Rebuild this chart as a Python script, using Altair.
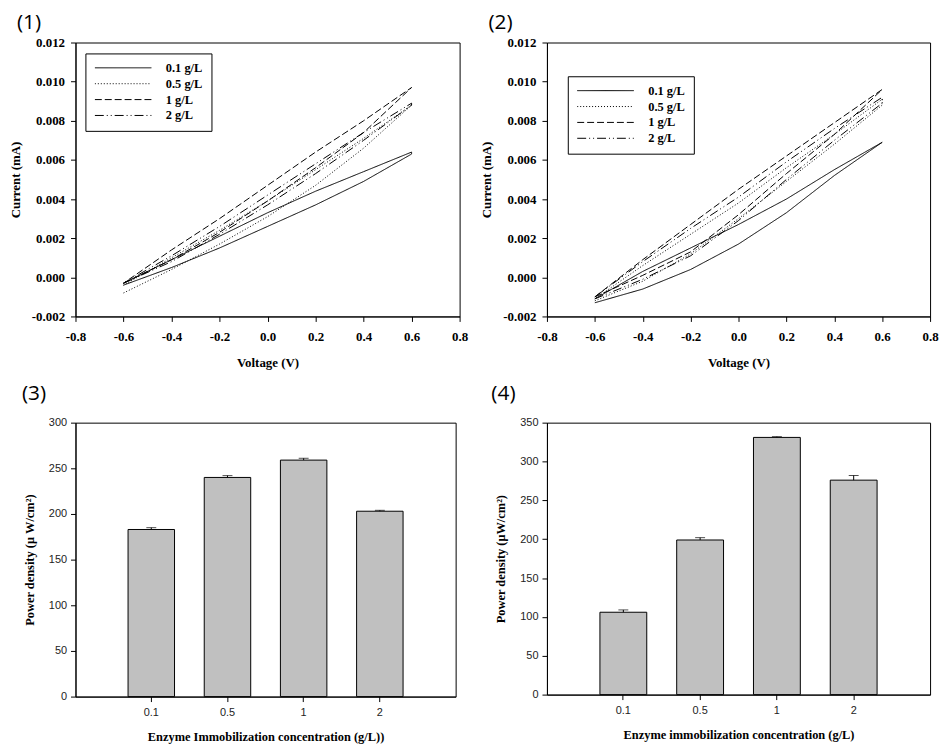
import altair as alt
import pandas as pd

# ---------------- data ----------------
VOLT = [-0.6, -0.4, -0.2, 0.0, 0.2, 0.4, 0.6]
CONCS = ["0.1 g/L", "0.5 g/L", "1 g/L", "2 g/L"]

# Panel (1): cyclic voltammetry loops (current, mA) - lower and upper branch
P1_C01_LOW = [-0.0004, 0.0005, 0.0015, 0.0026, 0.0037, 0.0049, 0.0063]
P1_C01_UP = [-0.0003, 0.0009, 0.0021, 0.0033, 0.0044, 0.0054, 0.0064]
P1_C05_LOW = [-0.0008, 0.0004, 0.0017, 0.0031, 0.0047, 0.0066, 0.0088]
P1_C05_UP = [-0.0004, 0.0010, 0.0024, 0.0039, 0.0055, 0.0071, 0.0088]
P1_C1_LOW = [-0.0003, 0.0009, 0.0023, 0.0039, 0.0056, 0.0074, 0.0097]
P1_C1_UP = [-0.0003, 0.0014, 0.0030, 0.0047, 0.0064, 0.0080, 0.0097]
P1_C2_LOW = [-0.0003, 0.0008, 0.0022, 0.0037, 0.0053, 0.0070, 0.0088]
P1_C2_UP = [-0.0003, 0.0011, 0.0026, 0.0042, 0.0058, 0.0074, 0.0089]

# Panel (2)
P2_C01_LOW = [-0.0013, -0.0006, 0.0004, 0.0017, 0.0033, 0.0052, 0.0069]
P2_C01_UP = [-0.0011, 0.0003, 0.0015, 0.0027, 0.0040, 0.0055, 0.0069]
P2_C05_LOW = [-0.0012, -0.0002, 0.0012, 0.0030, 0.0049, 0.0068, 0.0088]
P2_C05_UP = [-0.0011, 0.0006, 0.0022, 0.0038, 0.0056, 0.0073, 0.0091]
P2_C1_LOW = [-0.0010, 0.0001, 0.0013, 0.0032, 0.0053, 0.0073, 0.0096]
P2_C1_UP = [-0.0010, 0.0009, 0.0027, 0.0045, 0.0062, 0.0079, 0.0096]
P2_C2_LOW = [-0.0011, -0.0001, 0.0011, 0.0029, 0.0050, 0.0070, 0.0089]
P2_C2_UP = [-0.0010, 0.0008, 0.0025, 0.0041, 0.0059, 0.0076, 0.0092]

# Panels (3) and (4): power density bars
BAR_CATS = ["0.1", "0.5", "1", "2"]
P3_POWER = [183, 240, 259, 203]
P3_ERR = [2, 2, 2, 1]
P4_POWER = [106, 199, 331, 276]
P4_ERR = [3, 3, 1, 6]

SERIF = "Liberation Serif"
SANS = "Liberation Sans"


def loop_frame(branches):
    rows = []
    for conc, (low, up) in zip(CONCS, branches):
        n = len(VOLT)
        for i in range(n):
            rows.append({"conc": conc, "V": VOLT[i], "I": low[i], "ord": i})
        for k, i in enumerate(reversed(range(n))):
            rows.append({"conc": conc, "V": VOLT[i], "I": up[i], "ord": n + k})
    return pd.DataFrame(rows)


df1 = loop_frame([(P1_C01_LOW, P1_C01_UP), (P1_C05_LOW, P1_C05_UP),
                  (P1_C1_LOW, P1_C1_UP), (P1_C2_LOW, P1_C2_UP)])
df2 = loop_frame([(P2_C01_LOW, P2_C01_UP), (P2_C05_LOW, P2_C05_UP),
                  (P2_C1_LOW, P2_C1_UP), (P2_C2_LOW, P2_C2_UP)])

MINUS_FIX = "replace(datum.label, '\u2212', '-')"


def panel_title(text, dx, offset):
    return alt.TitleParams(text=text, anchor="start", frame="group", dx=dx,
                           offset=offset, font="Open Sans",
                           fontSize=21, fontWeight="normal", color="black",
                           orient="top")


def cv_chart(df, label, lx, ly, dx, off, width, height):
    xaxis = alt.Axis(values=[-0.8, -0.6, -0.4, -0.2, 0.0, 0.2, 0.4, 0.6, 0.8],
                     format=".1f", labelExpr=MINUS_FIX, title="Voltage (V)",
                     labelFont=SERIF, labelFontWeight="bold", labelFontSize=13,
                     titleFont=SERIF, titleFontWeight="bold", titleFontSize=13,
                     labelPadding=9, titlePadding=13, labelOverlap=False,
                     labelFlush=False)
    yaxis = alt.Axis(values=[-0.002, 0.0, 0.002, 0.004, 0.006, 0.008, 0.010, 0.012],
                     format=".3f", labelExpr=MINUS_FIX, title="Current (mA)",
                     labelFont=SERIF, labelFontWeight="bold", labelFontSize=13,
                     titleFont=SERIF, titleFontWeight="bold", titleFontSize=13,
                     labelPadding=6, titlePadding=9, labelOverlap=False,
                     labelFlush=False)
    legend = alt.Legend(title=None, orient="none", legendX=lx, legendY=ly,
                        symbolType="stroke", symbolSize=3249,
                        symbolStrokeWidth=1, symbolStrokeColor="black",
                        labelFont=SERIF, labelFontWeight="bold", labelFontSize=12.5,
                        labelColor="black", labelOffset=14, strokeColor="black",
                        padding=9, rowPadding=3, clipHeight=11)
    return alt.Chart(df).mark_line(color="black", strokeWidth=1).encode(
        x=alt.X("V:Q", scale=alt.Scale(domain=[-0.8, 0.8], nice=False, zero=False), axis=xaxis),
        y=alt.Y("I:Q", scale=alt.Scale(domain=[-0.002, 0.012], nice=False, zero=False), axis=yaxis),
        strokeDash=alt.StrokeDash("conc:N", sort=CONCS,
                                  scale=alt.Scale(domain=CONCS,
                                                  range=[[1, 0], [1, 2], [7, 3], [9, 3, 1, 3, 1, 3]]),
                                  legend=legend),
        order="ord:Q",
    ).properties(width=width, height=height, title=panel_title(label, dx, off))


def bar_chart(cats, vals, errs, label, xtitle, ytitle, ymax, dx, off, width, height):
    df = pd.DataFrame({"c": cats, "v": vals, "top": [a + b for a, b in zip(vals, errs)]})
    xs = alt.Scale(domain=cats, paddingInner=0.39, paddingOuter=0.69)
    ys = alt.Scale(domain=[0, ymax], nice=False)
    xaxis = alt.Axis(title=xtitle, labelFont=SANS, labelFontSize=11, labelColor="#222",
                     labelAngle=0, titleFont=SERIF, titleFontWeight="bold",
                     titleFontSize=12.5, labelPadding=5, titlePadding=13)
    yaxis = alt.Axis(title=ytitle, values=list(range(0, ymax + 1, 50)), labelFont=SANS,
                     labelFontSize=11, labelColor="#222", titleFont=SERIF,
                     titleFontWeight="bold", titleFontSize=12.5, labelPadding=4,
                     titlePadding=12, labelOverlap=False)
    base = alt.Chart(df)
    bars = base.mark_bar(color="#c0c0c0", stroke="black", strokeWidth=1).encode(
        x=alt.X("c:N", scale=xs, sort=cats, axis=xaxis),
        y=alt.Y("v:Q", scale=ys, axis=yaxis),
    )
    rule = base.mark_rule(color="black", strokeWidth=1).encode(
        x=alt.X("c:N", scale=xs, sort=cats, axis=xaxis),
        y=alt.Y("v:Q", scale=ys, axis=yaxis), y2="top:Q")
    cap = base.mark_tick(color="black", thickness=1, size=10, orient="horizontal").encode(
        x=alt.X("c:N", scale=xs, sort=cats, axis=xaxis),
        y=alt.Y("top:Q", scale=ys, axis=yaxis))
    return alt.layer(bars, rule, cap).properties(
        width=width, height=height, title=panel_title(label, dx, off))


p1 = cv_chart(df1, "(1)", 10, 11, -59, 4, 387, 276)
p2 = cv_chart(df2, "(2)", 21, 34, -59, 4, 386, 276)
p3 = bar_chart(BAR_CATS, P3_POWER, P3_ERR, "(3)",
               "Enzyme Immobilization concentration  (g/L))",
               "Power density (\u03bc W/cm\u00b2)", 300, -54, 13, 383, 276)
p4 = bar_chart(BAR_CATS, P4_POWER, P4_ERR, "(4)",
               "Enzyme immobilization concentration (g/L)",
               "Power density (\u03bcW/cm\u00b2)", 350, -56, 13, 386, 274)

chart = alt.concat(p1, p2, p3, p4, columns=2, spacing=alt.RowColnumber(row=107, column=88),
                   bounds="flush").resolve_scale(
    strokeDash="independent"
).resolve_legend(
    strokeDash="independent"
).properties(
    padding=0, background="white"
).configure_view(
    stroke="black", strokeWidth=1
).configure_axis(
    grid=False, domainColor="black", tickColor="black", tickSize=5, domainWidth=1,
    titleColor="black"
)

chart.save("out.html", embed_options={"renderer": "svg", "actions": False})
